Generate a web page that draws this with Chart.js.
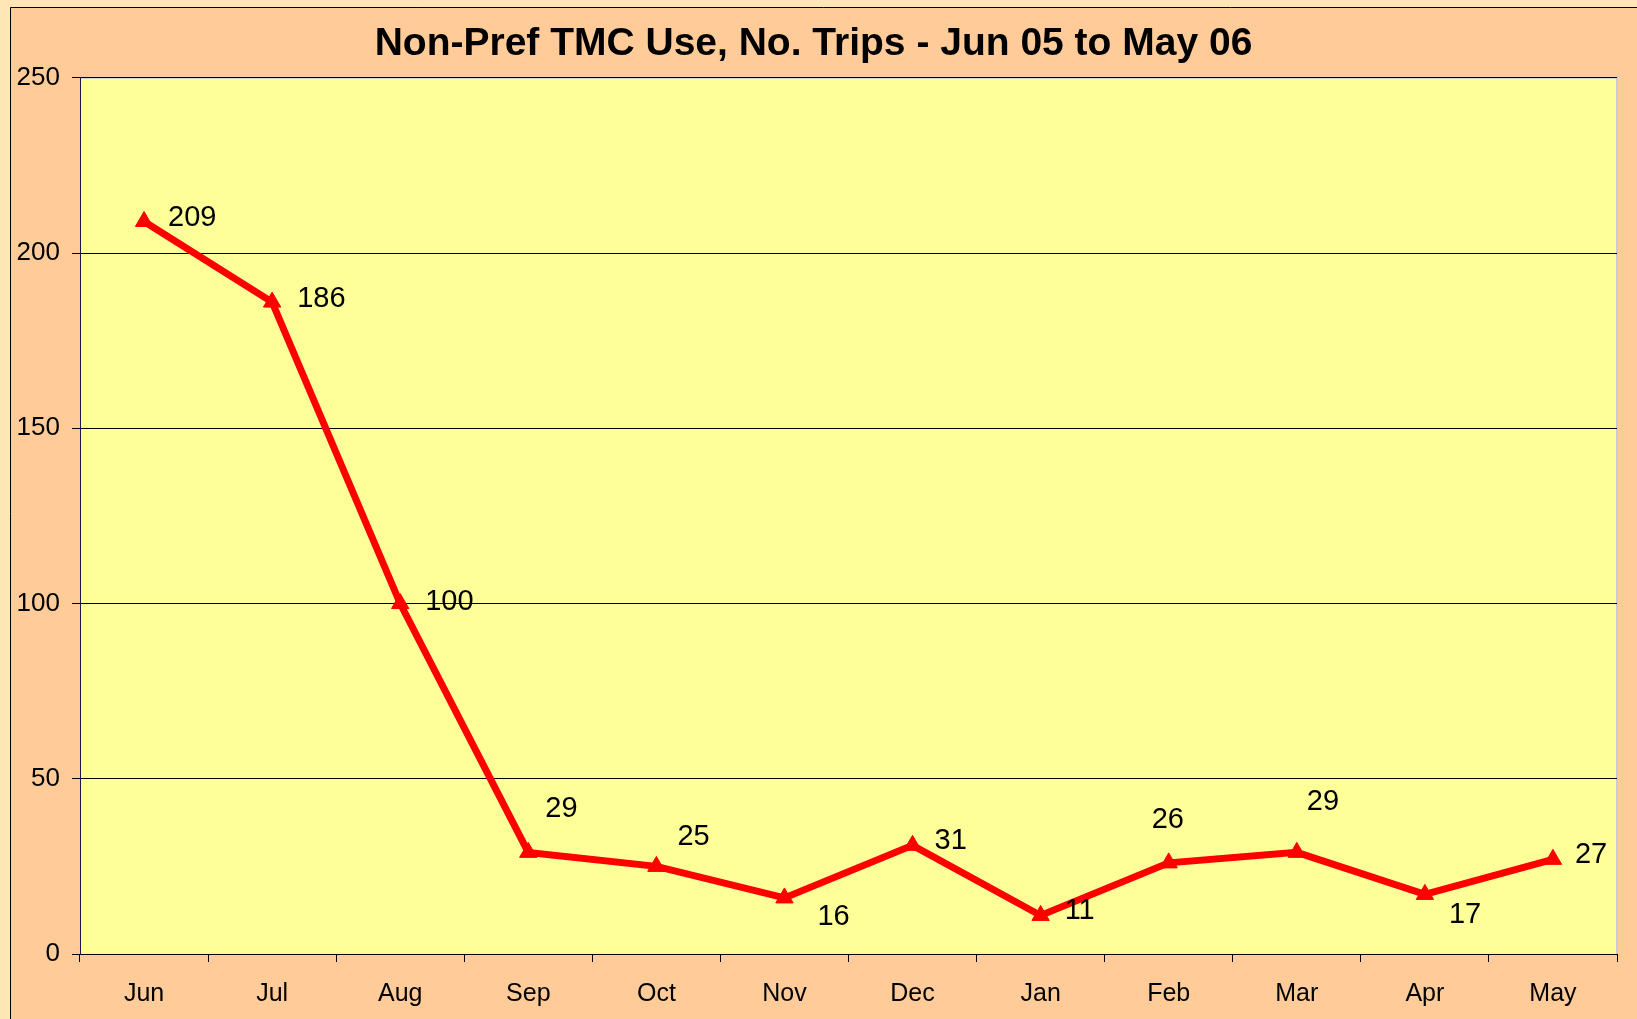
<!DOCTYPE html>
<html>
<head>
<meta charset="utf-8">
<script src="https://cdn.jsdelivr.net/npm/chart.js@4/dist/chart.umd.min.js"></script>
<style>
    html, body { margin: 0; padding: 0; background: #FFE6B4; overflow: hidden; }
    #wrap { width: 1637px; height: 1019px; position: relative; }
</style>
</head>
<body>
<div id="wrap"><canvas id="chart" width="1637" height="1019"></canvas></div>
<script>
// data
const months = ['Jun', 'Jul', 'Aug', 'Sep', 'Oct', 'Nov', 'Dec', 'Jan', 'Feb', 'Mar', 'Apr', 'May'];
const trips = [209, 186, 100, 29, 25, 16, 31, 11, 26, 29, 17, 27];
const yTicks = [0, 50, 100, 150, 200, 250];

// where Excel put each value label, relative to its point (px)
const labelOffsets = [
    [24, -3], [25, -3], [25, -2], [17, -43], [21, -29], [33, 19],
    [22, -4], [24, -4], [-17, -43], [10, -50], [24, 21], [22, -4]
];

const FONT = '"Liberation Sans", Arial, sans-serif';

const frame = {
    id: 'frame',
    beforeDraw(chart) {
        const c = chart.ctx;
        const a = chart.chartArea;
        c.save();
        c.fillStyle = '#FFE6B4';
        c.fillRect(0, 0, chart.width, chart.height);
        c.fillStyle = '#FFCC99';
        c.fillRect(10, 7, chart.width, chart.height);
        c.strokeStyle = '#000';
        c.lineWidth = 1;
        c.beginPath();
        c.moveTo(10.5, chart.height);
        c.lineTo(10.5, 7.5);
        c.lineTo(chart.width, 7.5);
        c.stroke();
        c.fillStyle = '#FFFF99';
        c.fillRect(a.left, a.top, a.right - a.left, a.bottom - a.top);
        c.strokeStyle = '#C8C8E8';
        c.lineWidth = 2;
        c.beginPath();
        c.moveTo(a.left, a.top);
        c.lineTo(a.right, a.top);
        c.lineTo(a.right, a.bottom);
        c.stroke();
        c.restore();
    }
};

const valueLabels = {
    id: 'valueLabels',
    afterDatasetsDraw(chart) {
        const c = chart.ctx;
        const meta = chart.getDatasetMeta(0);
        c.save();
        c.font = '29px ' + FONT;
        c.fillStyle = '#000';
        c.textAlign = 'left';
        c.textBaseline = 'middle';
        meta.data.forEach((pt, i) => {
            const off = labelOffsets[i];
            c.fillText(String(trips[i]), pt.x + off[0], pt.y + off[1]);
        });
        c.restore();
    }
};

new Chart(document.getElementById('chart'), {
    type: 'line',
    data: {
        labels: months,
        datasets: [{
            data: trips,
            borderColor: '#FF0000',
            backgroundColor: '#FF0000',
            borderWidth: 7,
            pointStyle: 'triangle',
            pointRadius: 10,
            pointBorderWidth: 1,
            tension: 0
        }]
    },
    options: {
        responsive: false,
        animation: false,
        layout: { padding: { top: 7, left: 10, right: 20, bottom: 0 } },
        plugins: {
            legend: { display: false },
            tooltip: { enabled: false },
            title: {
                display: true,
                text: 'Non-Pref TMC Use, No. Trips - Jun 05 to May 06',
                color: '#000',
                font: { family: FONT, size: 39, weight: 'bold' },
                padding: { top: 14, bottom: 10 }
            }
        },
        scales: {
            x: {
                offset: true,
                grid: {
                    offset: true,
                    drawOnChartArea: false,
                    color: '#000',
                    tickLength: 8
                },
                border: { color: '#000', width: 1 },
                ticks: {
                    color: '#000',
                    font: { family: FONT, size: 25 },
                    padding: 17
                },
                afterFit(scale) { scale.height = 65; }
            },
            y: {
                min: 0,
                max: 250,
                afterBuildTicks(scale) { scale.ticks = yTicks.map(v => ({ value: v })); },
                grid: {
                    color: '#000',
                    lineWidth: 1,
                    tickLength: 8,
                    drawTicks: true
                },
                border: { color: '#1a1a4d', width: 1 },
                ticks: {
                    color: '#000',
                    font: { family: FONT, size: 26 },
                    padding: 12
                },
                afterFit(scale) { scale.width = 70; }
            }
        }
    },
    plugins: [frame, valueLabels]
});
</script>
</body>
</html>
